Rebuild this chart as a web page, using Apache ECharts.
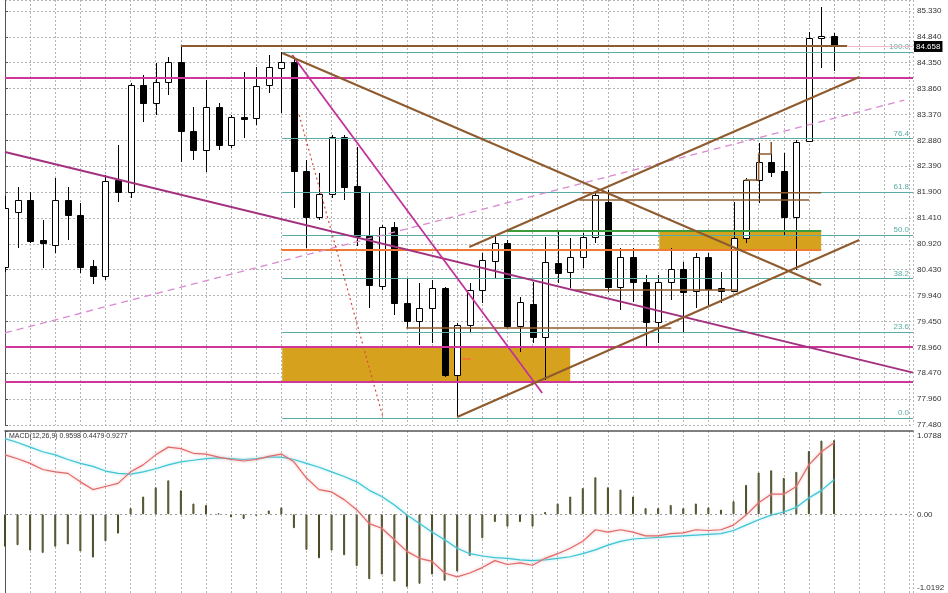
<!DOCTYPE html>
<html><head><meta charset="utf-8">
<script src="https://cdn.jsdelivr.net/npm/echarts@6/dist/echarts.min.js"></script>
<style>html,body{margin:0;padding:0;background:#fff}#c{width:948px;height:593px}</style>
</head><body><div id="c"></div>
<script>
// ---------- price candles (index = bar number) ----------
const candleOpen  = [80.48,81.52,81.75,80.99,80.90,81.75,81.47,80.50,80.31,82.13,81.90,83.93,83.59,83.99,84.36,83.06,82.70,83.51,82.79,83.32,83.30,83.93,84.25,84.36,82.30,81.43,81.86,82.94,82.02,81.07,80.12,81.24,79.80,79.46,79.71,80.08,78.44,79.38,80.05,80.60,80.94,79.37,79.78,79.16,80.56,80.39,80.67,81.05,81.71,80.10,80.67,80.20,79.44,80.20,80.44,80.03,80.67,80.08,80.03,81.03,82.13,82.47,82.30,81.43,82.87,84.82,84.86];
const candleClose = [81.60,81.75,80.97,80.94,81.75,81.47,80.48,80.31,82.11,81.90,83.93,83.59,83.99,84.36,83.06,82.70,83.51,82.79,83.32,83.29,83.91,84.27,84.36,82.30,81.43,81.86,82.94,82.00,81.07,80.14,81.24,79.80,79.46,79.71,80.08,78.44,79.38,80.05,80.61,80.94,79.37,79.82,79.16,80.58,80.37,80.67,81.05,81.85,80.10,80.67,80.20,79.44,80.20,80.44,80.01,80.67,80.07,80.03,81.03,82.13,82.47,82.28,81.43,82.85,84.82,84.86,84.658];
const candleLow   = [80.39,80.84,80.94,80.46,80.75,80.99,80.37,80.16,80.24,81.71,81.79,83.23,83.36,83.74,82.47,82.51,82.28,82.70,82.74,82.93,83.17,83.78,83.40,81.60,80.84,81.37,81.79,81.75,80.88,79.71,80.05,79.57,79.33,79.00,79.04,78.40,77.64,79.25,79.80,80.27,79.33,78.87,79.04,78.34,80.18,80.08,80.46,80.94,80.01,79.67,79.82,78.95,79.04,79.86,79.23,79.71,79.76,79.80,80.01,80.94,81.69,82.19,81.09,80.43,82.85,84.25,84.19];
const candleHigh  = [81.83,82.00,81.90,81.37,82.17,82.00,81.69,80.61,82.22,82.79,83.97,84.12,84.35,84.46,84.65,83.51,84.02,83.59,83.36,84.18,84.27,84.50,84.55,84.46,82.51,82.26,82.98,82.98,82.75,81.88,81.28,81.33,80.27,80.18,80.24,80.10,79.42,80.18,80.75,81.09,80.99,79.91,80.20,81.05,81.15,81.03,81.13,81.88,81.94,80.84,80.84,80.33,80.33,80.84,80.58,80.75,80.75,80.39,81.71,82.17,82.83,82.85,82.64,82.89,84.93,85.41,84.91];

// ---------- MACD(12,26,9) panel ----------
const macdBars     = [-0.42,-0.40,-0.47,-0.50,-0.42,-0.39,-0.48,-0.56,-0.35,-0.25,0.08,0.23,0.35,0.44,0.31,0.14,0.12,0.01,-0.04,-0.06,-0.02,0.05,0.09,-0.18,-0.46,-0.57,-0.47,-0.53,-0.67,-0.84,-0.78,-0.87,-0.94,-0.90,-0.78,-0.86,-0.74,-0.54,-0.31,-0.10,-0.16,-0.10,-0.16,0.03,0.14,0.23,0.34,0.48,0.35,0.32,0.23,0.08,0.08,0.12,0.08,0.14,0.09,0.06,0.17,0.38,0.54,0.57,0.47,0.55,0.82,0.955,0.9598];
const macdRedLine  = [0.77,0.72,0.66,0.58,0.55,0.53,0.42,0.32,0.36,0.40,0.55,0.64,0.77,0.87,0.85,0.79,0.78,0.74,0.71,0.69,0.71,0.75,0.78,0.68,0.47,0.32,0.29,0.19,0.06,-0.12,-0.18,-0.33,-0.48,-0.57,-0.61,-0.76,-0.81,-0.76,-0.69,-0.60,-0.65,-0.63,-0.66,-0.57,-0.51,-0.44,-0.35,-0.20,-0.23,-0.20,-0.23,-0.28,-0.28,-0.25,-0.24,-0.20,-0.21,-0.20,-0.14,-0.01,0.15,0.26,0.26,0.36,0.64,0.81,0.9277];
const macdCyanLine = [0.98,0.93,0.87,0.81,0.77,0.71,0.66,0.62,0.56,0.53,0.52,0.55,0.59,0.64,0.68,0.70,0.72,0.73,0.72,0.71,0.72,0.74,0.74,0.71,0.66,0.61,0.55,0.49,0.42,0.31,0.23,0.12,-0.01,-0.12,-0.23,-0.33,-0.44,-0.51,-0.54,-0.56,-0.57,-0.59,-0.60,-0.59,-0.57,-0.55,-0.51,-0.46,-0.40,-0.35,-0.32,-0.31,-0.30,-0.29,-0.28,-0.27,-0.26,-0.25,-0.21,-0.14,-0.07,-0.01,0.03,0.09,0.21,0.31,0.4479];
const macdTitle = 'MACD(12,26,9) 0.9598 0.4479 0.9277';

// ---------- axes ----------
const priceMin = 77.49, priceMax = 85.538, priceStep = 0.49;
const priceTickLabels = ['77.480','77.960','78.470','78.960','79.450','79.940','80.430','80.920','81.410','81.900','82.390','82.880','83.370','83.860','84.350','84.840','85.330'];
const macdTicks = [-1.0192, 0, 1.0788];
const macdTickLabels = ['-1.0192', '0.00', '1.0788'];
const barMax = 72.29;
const lastPrice = 84.658;

// ---------- drawn objects (bar index, price) ----------
const brownTopLine      = [[14.0, 84.667], [67.05, 84.667]];
const brownFallLine     = [[22.07, 84.534], [64.98, 80.141]];
const brownRiseLowLine  = [[36.0, 77.641], [68.01, 80.993]];
const brownRiseHighLine = [[36.96, 80.861], [68.01, 84.080]];
const brownLevelA = [[45.96, 81.889], [64.98, 81.889]];
const brownLevelB = [[45.72, 81.751], [64.03, 81.751]];
const brownLevelC = [[45.32, 80.046], [58.3, 80.046]];
const brownLevelD = [[31.94, 79.327], [53.04, 79.327]];
const brownSteps  = [[58.9, 82.13], [60.0, 82.13], [60.0, 82.62], [61.0, 82.62], [61.0, 82.85]];
const magentaLevels    = [84.061, 78.967, 78.304];
const magentaLongLine  = [[0, 82.661], [72.29, 78.482]];
const magentaSteepLine = [[22.87, 84.496], [42.77, 78.096]];
const pinkDashLine     = [[0, 79.236], [71.6, 83.644]];
const redDotLine       = [[23.42, 83.36], [30.11, 77.62]];
const orangeLevel      = [[21.99, 80.804], [64.98, 80.804]];
const greenLevel       = [[39.98, 81.164], [64.98, 81.164]];
const orangeTick       = [[36.4, 78.74], [37.1, 78.74]];
const goldZones = [[[22.07, 78.967], [45.0, 78.285]], [[52.09, 81.164], [64.98, 80.804]]];
const fibRatios = [0, 23.6, 38.2, 50, 61.8, 76.4, 100];
const fibLabels = ['0.0', '23.6', '38.2', '50.0', '61.8', '76.4', '100.0'];
const fibLow = 77.62, fibHigh = 84.55, fibStart = 22.07;
const bidLine = [[67.1, lastPrice], [72.29, lastPrice]];

const FONT = 'Liberation Sans';
const GRIDC = '#b4b4b4';
const BROWN = '#8f5b2e';
const TEAL = '#58aca6';

function seg(pts, color, width, type, z) {
  return { type: 'line', xAxisIndex: 0, yAxisIndex: 0, data: pts, symbol: 'none', silent: true,
    lineStyle: { color: color, width: width, type: type || 'solid' }, z: z || 5, animation: false };
}

function renderCandle(params, api) {
  const i = api.value(0), o = api.value(1), c = api.value(2), lo = api.value(3), hi = api.value(4);
  const po = api.coord([i, o]), pc = api.coord([i, c]), pl = api.coord([i, lo]), ph = api.coord([i, hi]);
  const cx = Math.round(po[0]) + 0.5;
  const top = Math.round(Math.min(po[1], pc[1])) + 0.5;
  const bot = Math.round(Math.max(po[1], pc[1])) + 0.5;
  const bull = c >= o;
  return { type: 'group', children: [
    { type: 'line', shape: { x1: cx, y1: Math.round(ph[1]), x2: cx, y2: Math.round(pl[1]) }, style: { stroke: '#000', lineWidth: 1 } },
    { type: 'rect', shape: { x: cx - 3, y: top, width: 6, height: Math.max(bot - top, 1) }, style: { fill: bull ? '#fff' : '#000', stroke: '#000', lineWidth: 1 } }
  ] };
}

const candleData = candleOpen.map((o, i) => [i, o, candleClose[i], candleLow[i], candleHigh[i]]);
const fibPrice = r => fibLow + r / 100 * (fibHigh - fibLow);

const series = [];
// gold zones (background objects)
series.push({ type: 'line', xAxisIndex: 0, yAxisIndex: 0, data: [], z: 1, silent: true,
  markArea: { silent: true, itemStyle: { color: '#d6a21e', opacity: 1 },
    data: goldZones.map(zn => [{ coord: zn[0] }, { coord: zn[1] }]) } });
// candles
series.push({ type: 'custom', xAxisIndex: 0, yAxisIndex: 0, renderItem: renderCandle, data: candleData,
  dimensions: ['i', 'o', 'c', 'l', 'h'], encode: { x: 0, y: [1, 2, 3, 4] }, clip: true, z: 3, animation: false });
// fibonacci levels
series.push({ type: 'line', xAxisIndex: 0, yAxisIndex: 0, data: [], z: 4, silent: true,
  markLine: { silent: true, symbol: 'none', animation: false,
    data: fibRatios.map((r, k) => [
      { coord: [fibStart, fibPrice(r)], lineStyle: { color: TEAL, width: 1.2, type: 'solid' },
        label: { show: true, position: 'insideEndTop', formatter: fibLabels[k], color: TEAL, fontSize: 8, fontFamily: FONT, distance: [4, 1] } },
      { coord: [barMax, fibPrice(r)] }]) } });
// magenta horizontal levels
series.push({ type: 'line', xAxisIndex: 0, yAxisIndex: 0, data: [], z: 5, silent: true,
  markLine: { silent: true, symbol: 'none', animation: false, label: { show: false },
    lineStyle: { color: '#d0369a', width: 2, type: 'solid' },
    data: magentaLevels.map(p => [{ coord: [0, p] }, { coord: [barMax, p] }]) } });
series.push(seg(orangeLevel, '#f07a32', 2));
series.push(seg(greenLevel, '#3c9c3c', 2));
series.push(seg(brownLevelA, BROWN, 1.5));
series.push(seg(brownLevelB, BROWN, 1.5));
series.push(seg(brownLevelC, BROWN, 1.5));
series.push(seg(brownLevelD, BROWN, 1.5));
series.push(seg(brownSteps, BROWN, 1.5));
series.push(seg(orangeTick, '#f07a32', 2));
series.push(seg(pinkDashLine, '#d98ad0', 1.3, [7, 5]));
series.push(seg(redDotLine, '#d84a3a', 1.2, [2, 3]));
series.push(seg(magentaLongLine, '#a3317f', 2));
series.push(seg(magentaSteepLine, '#c2339a', 1.8));
series.push(seg(brownTopLine, BROWN, 2));
series.push(seg(brownFallLine, BROWN, 2));
series.push(seg(brownRiseLowLine, BROWN, 2));
series.push(seg(brownRiseHighLine, BROWN, 2));
// bid line with price box
series.push(Object.assign(seg(bidLine, '#f0b8c4', 1), {
  endLabel: { show: true, formatter: String(lastPrice), backgroundColor: '#000', color: '#fff',
    fontSize: 8, fontFamily: FONT, padding: [2, 2, 1, 2], distance: 1 } }));

// MACD
series.push({ type: 'bar', xAxisIndex: 1, yAxisIndex: 1, data: macdBars.map((v, i) => [i, v]), barWidth: 2,
  itemStyle: { color: '#9a9a62', borderColor: '#4a4a28', borderWidth: 1 }, silent: true, animation: false, z: 2,
  markLine: { silent: true, symbol: 'none', label: { show: false }, animation: false,
    lineStyle: { color: '#999', width: 1, type: [2, 3] }, data: [{ yAxis: 0 }] } });
series.push({ type: 'line', xAxisIndex: 1, yAxisIndex: 1, data: macdCyanLine.map((v, i) => [i, v]), symbol: 'none',
  lineStyle: { color: '#40c4d4', width: 1.2, shadowColor: 'rgba(140,225,235,0.9)', shadowBlur: 3 }, silent: true, animation: false, z: 3 });
series.push({ type: 'line', xAxisIndex: 1, yAxisIndex: 1, data: macdRedLine.map((v, i) => [i, v]), symbol: 'none',
  lineStyle: { color: '#e06a6a', width: 1.2, shadowColor: 'rgba(245,170,170,0.9)', shadowBlur: 3 }, silent: true, animation: false, z: 3 });

const labelStyle = { fontSize: 8, fontFamily: FONT, color: '#333' };

const option = {
  animation: false,
  backgroundColor: '#fff',
  grid: [
    { left: 5, width: 908, top: 0, height: 425 },
    { left: 5, width: 908, top: 431, height: 162 }
  ],
  xAxis: [
    { gridIndex: 0, type: 'value', min: 0, max: barMax, interval: 2,
      axisLine: { show: false }, axisTick: { show: false }, axisLabel: { show: false },
      splitLine: { show: true, lineStyle: { color: GRIDC, type: [2, 2], width: 1 } } },
    { gridIndex: 1, type: 'value', min: 0, max: barMax, interval: 2, position: 'top',
      axisLine: { show: true, onZero: false, lineStyle: { color: '#555', width: 1.5 } }, axisTick: { show: false }, axisLabel: { show: false },
      splitLine: { show: true, lineStyle: { color: GRIDC, type: [2, 2], width: 1 } } }
  ],
  yAxis: [
    { gridIndex: 0, type: 'value', position: 'right', min: priceMin, max: priceMax, interval: priceStep,
      axisLine: { show: true, lineStyle: { color: '#555' } },
      axisTick: { show: true, length: 3, lineStyle: { color: '#555' } },
      axisLabel: Object.assign({ margin: 4, showMaxLabel: false,
        formatter: v => { const k = Math.round((v - priceMin) / priceStep);
          return Math.abs(priceMin + k * priceStep - v) < 0.005 ? (priceTickLabels[k] || '') : ''; } }, labelStyle),
      splitLine: { show: true, lineStyle: { color: GRIDC, type: [2, 2], width: 1 } } },
    { gridIndex: 1, type: 'value', position: 'right', min: macdTicks[0], max: macdTicks[2],
      axisLine: { show: true, lineStyle: { color: '#555' } },
      axisTick: { show: true, length: 3, customValues: macdTicks, lineStyle: { color: '#555' } },
      axisLabel: Object.assign({ margin: 4, customValues: macdTicks,
        formatter: v => { const k = macdTicks.findIndex(t => Math.abs(t - v) < 1e-6);
          if (k === 2) return '{t|' + macdTickLabels[k] + '}';
          if (k === 0) return '{b|' + macdTickLabels[k] + '}';
          return k >= 0 ? macdTickLabels[k] : ''; },
        rich: { t: Object.assign({ padding: [9, 0, 0, 0] }, labelStyle), b: Object.assign({ padding: [0, 0, 10, 0] }, labelStyle) } }, labelStyle),
      splitLine: { show: false } }
  ],
  graphic: [
    { type: 'text', left: 9, top: 433, z: 100, style: { text: macdTitle, fontSize: 7, fontFamily: FONT, fill: '#333' } }
  ],
  series: series
};

const chart = echarts.init(document.getElementById('c'), null, { renderer: 'canvas' });
chart.setOption(option);
</script>
</body></html>
